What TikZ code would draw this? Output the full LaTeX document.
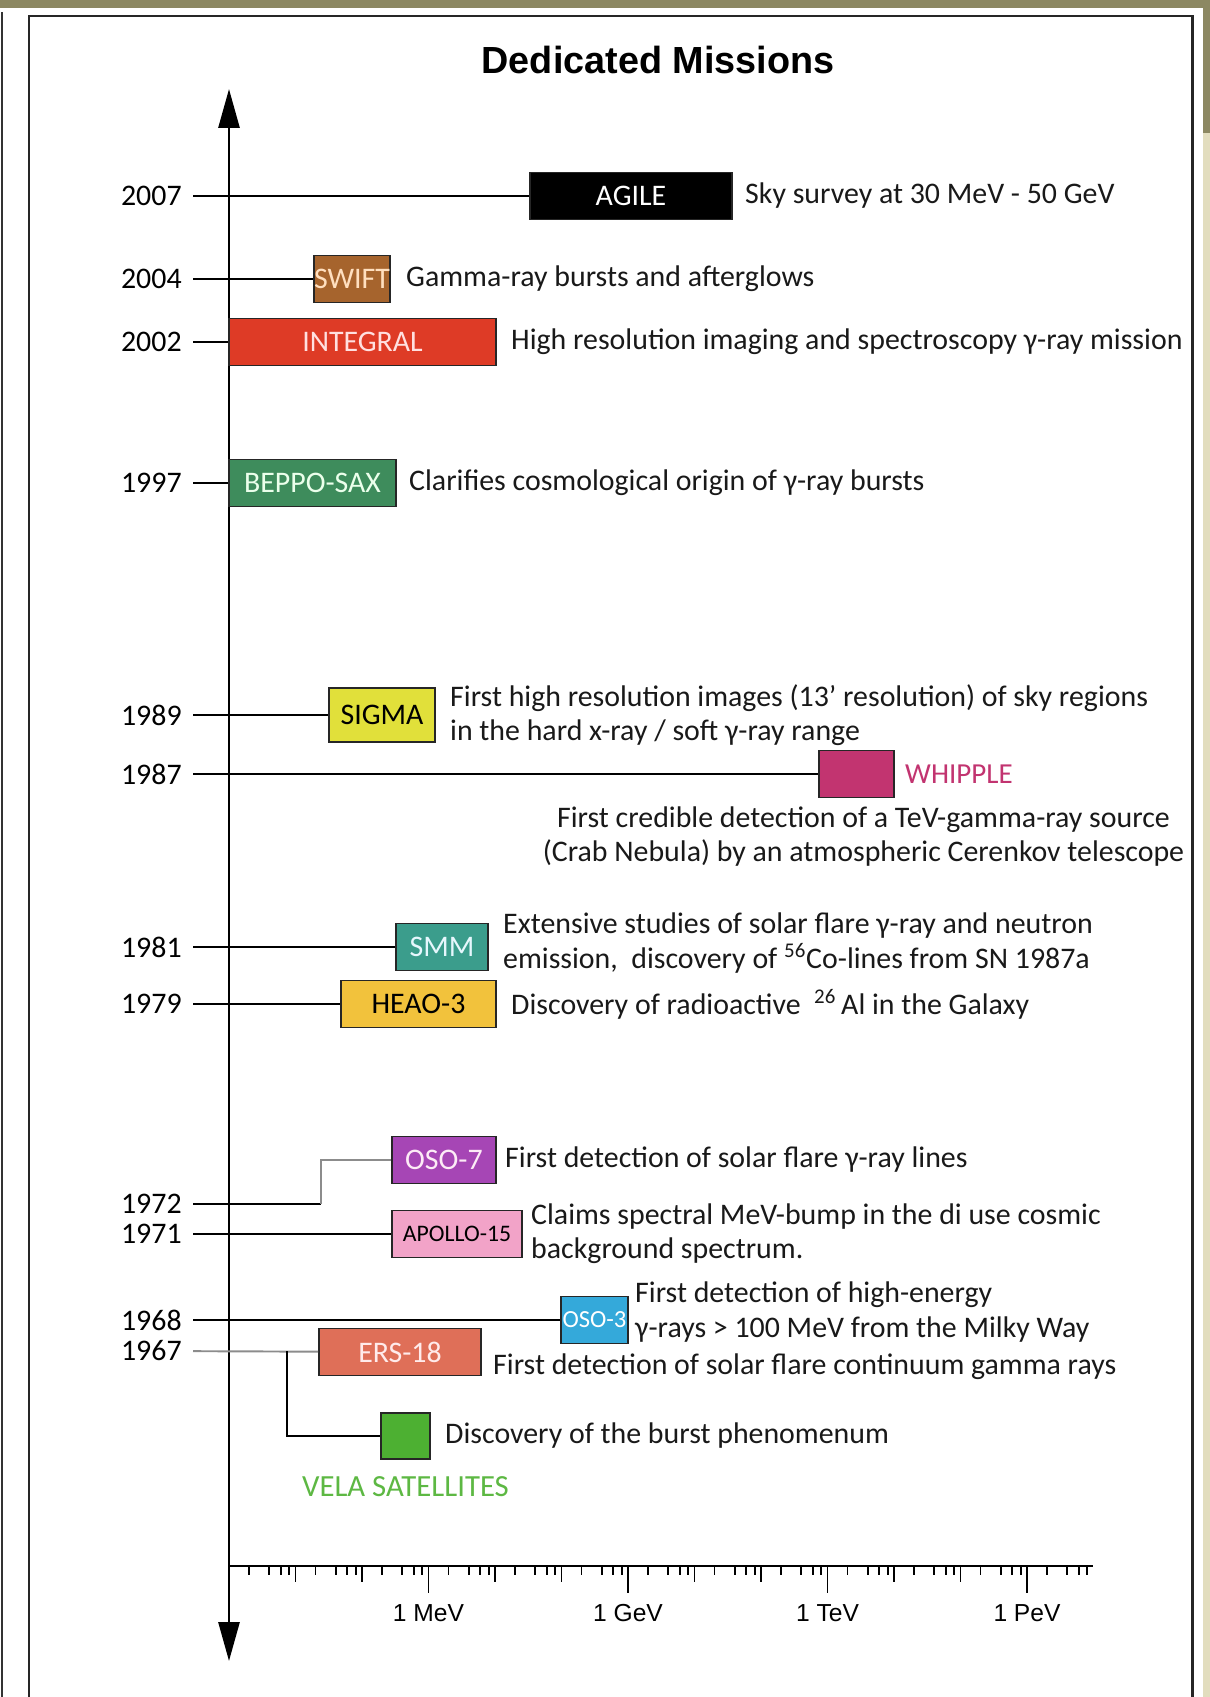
\documentclass[tikz,border=0pt]{standalone}
\usepackage{fontspec}
\setmainfont{Carlito}
\newfontfamily\headfont{Liberation Sans}
\usetikzlibrary{positioning,arrows.meta}

\definecolor{olivebg}{RGB}{140,136,98}
\definecolor{beigebg}{RGB}{226,221,190}
\definecolor{swiftc}{RGB}{166,100,45}
\definecolor{integralc}{RGB}{222,59,38}
\definecolor{beppoc}{RGB}{62,140,92}
\definecolor{sigmac}{RGB}{225,224,58}
\definecolor{whipplec}{RGB}{194,52,112}
\definecolor{smmc}{RGB}{59,157,140}
\definecolor{heaoc}{RGB}{242,194,60}
\definecolor{ososeven}{RGB}{166,70,181}
\definecolor{apolloc}{RGB}{242,163,200}
\definecolor{osothree}{RGB}{52,169,218}
\definecolor{ersc}{RGB}{223,111,88}
\definecolor{velac}{RGB}{77,176,50}
\definecolor{velatext}{RGB}{93,184,67}

\begin{document}
\begin{tikzpicture}[x=0.02cm, y=-0.02cm,
    mission/.style={draw=black!85, line width=1pt, minimum height=0.94cm, inner sep=0pt,
        font=\fontsize{17}{20}\selectfont},
    year/.style={anchor=east, inner xsep=0.22cm, inner ysep=0pt, font=\fontsize{17}{20}\selectfont},
    yearline/.style={line width=1.1pt},
    stepline/.style={line width=1.1pt, black!45},
    desc/.style={inner sep=0pt, align=left, text=black!90, font=\fontsize{17}{19.5}\selectfont},
    tick/.style={line width=1.1pt},
    elabel/.style={font=\headfont\fontsize{14}{16}\selectfont}]

    \useasboundingbox (0,0) rectangle (1210,1697);

    % Slide frame
    \fill[white] (0,0) rectangle (1210,1697);
    \fill[olivebg] (0,0) rectangle (1210,8);
    \fill[olivebg] (1203,0) rectangle (1210,133);
    \fill[beigebg] (1203,133) rectangle (1210,1697);
    \draw[line width=1.7pt, black!85] (29,1697) -- (29,16) -- (1192,16) -- (1192,1697);
    \draw[line width=1.4pt, black!80] (2,1697) -- (2,12);

    % Title
    \node[font={\headfont\bfseries\fontsize{21.5}{24}\selectfont}] (title) at (658,60) {Dedicated Missions};

    % Time axis
    \coordinate (ttop) at (229,89);
    \coordinate (tbot) at (229,1661);
    \draw[line width=1.6pt, {Triangle[width=0.42cm,length=0.78cm]}-{Triangle[width=0.42cm,length=0.78cm]}] (ttop) -- (tbot);

    % Energy axis
    \coordinate (eleft) at (229,1566);
    \coordinate (eright) at (1093,1566);
    \draw[line width=1.6pt] (eleft) -- (eright);
    \foreach \k in {0,...,12}{
        \foreach \m in {2,4,6,8}
            \draw[tick] ({229+66.5*(\k+log10(\m))},1566) -- ++(0,9);
    }
    \foreach \k in {1,...,12}
        \draw[tick] ({229+66.5*\k},1566) -- ++(0,16);
    \foreach \k/\u/\nm in {3/MeV/mev, 6/GeV/gev, 9/TeV/tev, 12/PeV/pev}{
        \draw[tick] ({229+66.5*\k},1566) -- ++(0,27);
        \node[elabel] (\nm) at ({229+66.5*\k},1613) {1 \u};
    }

    % 2007 - AGILE
    \node[year] (y2007) at (193,196) {2007};
    \node[mission, fill=black, text=white, minimum width=4.04cm] (agile) at (631,196) {AGILE};
    \node[desc, right=0.24cm of agile] (agiletxt) {Sky survey at 30 MeV - 50 GeV};
    \draw[yearline] (y2007) -- (agile);

    % 2004 - SWIFT
    \node[year] (y2004) at (193,279) {2004};
    \node[mission, fill=swiftc, text=orange!25, minimum width=1.52cm] (swift) at (352,279) {SWIFT};
    \node[desc, right=0.3cm of swift] (swifttxt) {Gamma-ray bursts and afterglows};
    \draw[yearline] (y2004) -- (swift);

    % 2002 - INTEGRAL
    \node[year] (y2002) at (193,342) {2002};
    \node[mission, fill=integralc, text=red!12, minimum width=5.34cm] (integral) at (362.5,342) {INTEGRAL};
    \node[desc, right=0.28cm of integral] (integraltxt) {High resolution imaging and spectroscopy γ-ray mission};
    \draw[yearline] (y2002) -- (integral);

    % 1997 - BEPPO-SAX
    \node[year] (y1997) at (193,483) {1997};
    \node[mission, fill=beppoc, text=green!8, minimum width=3.34cm] (beppo) at (312.5,483) {BEPPO-SAX};
    \node[desc, right=0.24cm of beppo] (beppotxt) {Clarifies cosmological origin of γ-ray bursts};
    \draw[yearline] (y1997) -- (beppo);

    % 1989 - SIGMA
    \node[year] (y1989) at (193,715) {1989};
    \node[mission, fill=sigmac, minimum width=2.12cm, minimum height=1.08cm] (sigma) at (382,715) {SIGMA};
    \node[desc, right=0.28cm of sigma] (sigmatxt) {First high resolution images (13' resolution) of sky regions\\in the hard x-ray / soft γ-ray range};
    \draw[yearline] (y1989) -- (sigma);

    % 1987 - WHIPPLE
    \node[year] (y1987) at (193,774) {1987};
    \node[mission, fill=whipplec, minimum width=1.5cm] (whipple) at (856.5,774) {};
    \node[desc, text=whipplec, right=0.2cm of whipple, font=\fontsize{16.5}{19}\selectfont] (whipplelab) {WHIPPLE};
    \node[desc, align=center, below=0.16cm of whipple, xshift=0.14cm] (whippletxt) {First credible detection of a TeV-gamma-ray source\\(Crab Nebula) by an atmospheric Cerenkov telescope};
    \draw[yearline] (y1987) -- (whipple);

    % 1981 - SMM
    \node[year] (y1981) at (193,947) {1981};
    \node[mission, fill=smmc, text=cyan!10, minimum width=1.84cm] (smm) at (442,947) {SMM};
    \node[desc, right=0.28cm of smm, yshift=0.08cm] (smmtxt) {Extensive studies of solar flare γ-ray and neutron\\emission,\ \ discovery of \textsuperscript{56}Co-lines from SN 1987a};
    \draw[yearline] (y1981) -- (smm);

    % 1979 - HEAO-3
    \node[year] (y1979) at (193,1004) {1979};
    \node[mission, fill=heaoc, minimum width=3.1cm] (heao) at (418.5,1004) {HEAO-3};
    \node[desc, right=0.28cm of heao] (heaotxt) {Discovery of radioactive \ \textsuperscript{26}\,Al in the Galaxy};
    \draw[yearline] (y1979) -- (heao);

    % 1972 - OSO-7
    \node[year] (y1972) at (193,1204) {1972};
    \node[mission, fill=ososeven, text=magenta!8, minimum width=2.08cm] (oso7) at (444,1160) {OSO-7};
    \node[desc, right=0.16cm of oso7] (oso7txt) {First detection of solar flare γ-ray lines};
    \coordinate (bend72) at (321,1204);
    \draw[yearline] (y1972) -- (bend72);
    \draw[stepline] (bend72) |- (oso7);

    % 1971 - APOLLO-15
    \node[year] (y1971) at (193,1234) {1971};
    \node[mission, fill=apolloc, minimum width=2.6cm, font=\fontsize{13.5}{16}\selectfont] (apollo) at (457,1234) {APOLLO-15};
    \node[desc, right=0.16cm of apollo] (apollotxt) {Claims spectral MeV-bump in the di use cosmic\\background spectrum.};
    \draw[yearline] (y1971) -- (apollo);

    % 1968 - OSO-3
    \node[year] (y1968) at (193,1320) {1968};
    \node[mission, fill=osothree, text=white, minimum width=1.34cm, font=\fontsize{14}{16}\selectfont] (oso3) at (594.5,1320) {OSO-3};
    \node[desc, right=0.12cm of oso3, yshift=0.16cm] (oso3txt) {First detection of high-energy\\γ-rays > 100 MeV from the Milky Way};
    \draw[yearline] (y1968) -- (oso3);

    % 1967 - ERS-18 and Vela
    \node[year] (y1967) at (193,1351) {1967};
    \node[mission, fill=ersc, text=red!8, minimum width=3.24cm] (ers) at (400,1352) {ERS-18};
    \node[desc, right=0.22cm of ers, yshift=-0.3cm] (erstxt) {First detection of solar flare continuum gamma rays};
    \node[mission, fill=velac, minimum width=0.98cm, minimum height=0.92cm] (vela) at (405.5,1436) {};
    \node[desc, right=0.28cm of vela] (velatxt) {Discovery of the burst phenomenum};
    \node[desc, text=velatext, below=0.32cm of vela, font=\fontsize{17.5}{20}\selectfont] (velalab) {VELA SATELLITES};
    \coordinate (branch67) at (287,1351);
    \draw[stepline] (y1967) -- (ers);
    \draw[yearline] (branch67) |- (vela);
\end{tikzpicture}
\end{document}
